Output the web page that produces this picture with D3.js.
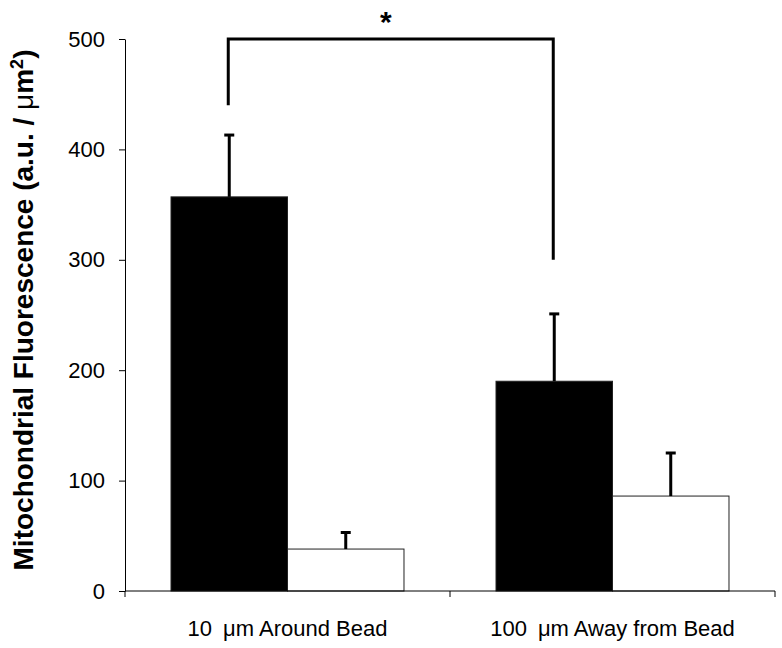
<!DOCTYPE html>
<html>
<head>
<meta charset="utf-8">
<script src="https://cdn.jsdelivr.net/npm/d3@7"></script>
<style>
  body { margin: 0; background: #fff; }
  text { font-family: "Liberation Sans", Arial, sans-serif; }
</style>
</head>
<body>
<div class="chart"></div>
<script>
// data
var categories = ["10\u2002\u03bcm Around Bead", "100\u2002\u03bcm Away from Bead"];
var series = ["black", "white"];
var blackValues = [357, 190];
var blackErrors = [56, 61];
var whiteValues = [38, 86];
var whiteErrors = [15, 39];
var yTicks = [0, 100, 200, 300, 400, 500];
// significance bracket: top level, left leg end, right leg end
var bracketTop = 500, bracketLeft = 440, bracketRight = 300;

var margin = {top: 39, right: 7, bottom: 57, left: 125},
    width = 782 - margin.left - margin.right,
    height = 648 - margin.top - margin.bottom;

var svg = d3.select(".chart").append("svg")
    .attr("width", width + margin.left + margin.right)
    .attr("height", height + margin.top + margin.bottom)
  .append("g")
    .attr("transform", "translate(" + margin.left + "," + margin.top + ")");

var rows = [];
categories.forEach(function(c, i) {
  rows.push({cat: c, s: "black", v: blackValues[i], e: blackErrors[i]});
  rows.push({cat: c, s: "white", v: whiteValues[i], e: whiteErrors[i]});
});

var y = d3.scaleLinear().domain([0, 500]).range([height, 0]);
var x0 = d3.scaleBand().domain(categories).range([0, 650]).padding(0);
var x1 = d3.scaleBand().domain(series).range([0, x0.bandwidth()])
    .paddingInner(0).paddingOuter(0.395);

// bars
svg.selectAll("rect.bar")
    .data(rows)
    .enter().append("rect")
    .attr("class", "bar")
    .attr("x", function(d) { return x0(d.cat) + x1(d.s) })
    .attr("y", function(d) { return y(d.v) })
    .attr("width", x1.bandwidth())
    .attr("height", function(d) { return height - y(d.v) })
    .attr("fill", function(d) { return d.s == "black" ? "#000" : "#fff" })
    .attr("stroke", "#222")
    .attr("stroke-width", 1);

// error bars (upper only)
var cx = function(d) { return x0(d.cat) + x1(d.s) + x1.bandwidth() / 2 };
svg.selectAll("line.err")
    .data(rows)
    .enter().append("line")
    .attr("class", "err")
    .attr("x1", cx).attr("x2", cx)
    .attr("y1", function(d) { return y(d.v) })
    .attr("y2", function(d) { return y(d.v + d.e) })
    .attr("stroke", "#000").attr("stroke-width", 3);
svg.selectAll("line.cap")
    .data(rows)
    .enter().append("line")
    .attr("class", "cap")
    .attr("x1", function(d) { return cx(d) - 5 })
    .attr("x2", function(d) { return cx(d) + 5 })
    .attr("y1", function(d) { return y(d.v + d.e) })
    .attr("y2", function(d) { return y(d.v + d.e) })
    .attr("stroke", "#000").attr("stroke-width", 3);

// Y axis
var yAxis = svg.append("g")
    .call(d3.axisLeft(y).tickValues(yTicks).tickSizeInner(6).tickSizeOuter(0).tickPadding(14));
yAxis.select(".domain").attr("stroke", "#000");
yAxis.selectAll(".tick line").attr("stroke", "#000");
yAxis.selectAll("text")
    .attr("font-size", 22)
    .attr("fill", "#000");

// X axis: baseline, ticks at category boundaries, labels in the middle
var xg = svg.append("g").attr("transform", "translate(0," + height + ")");
xg.append("line").attr("x1", 0).attr("x2", 650).attr("stroke", "#000");
var bounds = [0].concat(categories.map(function(c) { return x0(c) + x0.bandwidth() }));
xg.selectAll("line.tick")
    .data(bounds)
    .enter().append("line")
    .attr("class", "tick")
    .attr("x1", function(d) { return d }).attr("x2", function(d) { return d })
    .attr("y1", 0).attr("y2", 6)
    .attr("stroke", "#000");
xg.selectAll("text")
    .data(categories)
    .enter().append("text")
    .attr("x", function(d) { return x0(d) + x0.bandwidth() / 2 })
    .attr("y", 45)
    .attr("text-anchor", "middle")
    .attr("font-size", 22)
    .text(function(d) { return d });

// significance bracket
var lx = x0(categories[0]) + x1("black") + x1.bandwidth() / 2 - 1;
var rx = x0(categories[1]) + x1("black") + x1.bandwidth() / 2 - 1;
svg.append("path")
    .attr("d", "M" + lx + "," + y(bracketLeft) + "V" + y(bracketTop) +
               "H" + rx + "V" + y(bracketRight))
    .attr("fill", "none")
    .attr("stroke", "#000")
    .attr("stroke-width", 3);
svg.append("text")
    .attr("x", (lx + rx) / 2 - 5)
    .attr("y", -7)
    .attr("text-anchor", "middle")
    .attr("font-size", 30)
    .attr("font-weight", "bold")
    .text("*");

// Y label
svg.append("text")
    .attr("transform", "rotate(-90)")
    .attr("x", -(310 - margin.top))
    .attr("y", -92)
    .attr("text-anchor", "middle")
    .attr("font-size", 28)
    .attr("font-weight", "bold")
    .html("Mitochondrial Fluorescence (a.u. / <tspan font-weight='normal'>\u03bc</tspan>m<tspan font-size='18' dy='-10'>2</tspan><tspan dy='10'>)</tspan>");
</script>
</body>
</html>
